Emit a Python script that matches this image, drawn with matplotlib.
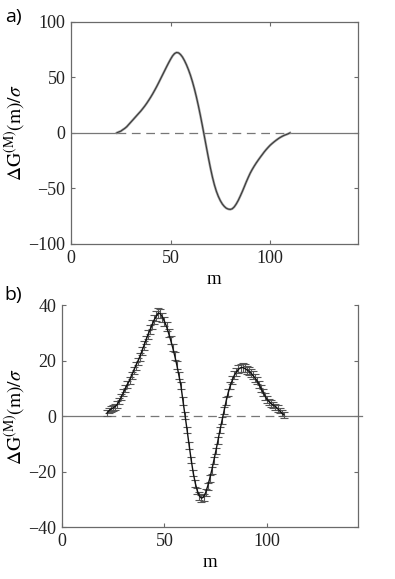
import numpy as np
import matplotlib
matplotlib.use("Agg")
import matplotlib.pyplot as plt

plt.rcParams['font.family'] = ['Liberation Serif', 'DejaVu Serif']
plt.rcParams['mathtext.fontset'] = 'stix'

# panel a) : smooth free-energy difference curve
m_a = np.arange(23, 111)
dg_a = [0.0, 0.8, 1.5, 2.8, 4.0, 5.5, 7.5, 9.5, 11.5, 13.5,
        15.5, 17.5, 19.5, 21.7, 24.0, 26.5, 29.2, 32.0, 35.0, 38.2,
        41.5, 45.0, 48.6, 52.2, 55.8, 59.4, 62.9, 66.2, 69.2, 71.3,
        72.3, 72.0, 70.5, 68.2, 65.0, 61.2, 56.8, 51.8, 46.0, 39.5,
        32.2, 24.2, 15.5, 6.3, -3.2, -12.8, -22.3, -31.3, -39.5, -46.6,
        -52.5, -57.2, -61.0, -64.0, -66.2, -67.8, -68.6, -68.9, -68.3, -66.6,
        -64.0, -60.8, -57.0, -53.0, -48.7, -44.3, -40.2, -36.3, -33.0, -30.0,
        -27.2, -24.6, -22.1, -19.7, -17.3, -15.1, -13.1, -11.2, -9.6, -8.1,
        -6.7, -5.4, -4.2, -3.2, -2.3, -1.6, -0.9, 0.0]

# panel b) : curve with error bars
m_b = np.arange(22, 109)
dg_b = [1.1, 2.0, 2.6, 3.0, 3.5, 4.2, 5.5, 7.0, 8.5, 10.0,
        11.5, 13.0, 14.8, 16.5, 18.2, 19.8, 21.5, 23.5, 25.5, 27.5,
        29.5, 31.2, 33.0, 34.8, 36.2, 37.3, 37.0, 35.8, 34.2, 32.4,
        30.0, 27.5, 24.8, 21.8, 18.5, 14.8, 11.0, 5.5, 0.3, -5.0,
        -10.5, -15.8, -20.5, -24.2, -27.0, -28.8, -29.6, -29.2, -27.6, -25.3,
        -22.5, -19.5, -16.0, -12.5, -8.8, -5.0, -1.5, 2.0, 5.5, 8.5,
        11.0, 13.0, 14.8, 16.0, 17.0, 17.5, 17.6, 17.3, 16.8, 16.3,
        15.6, 14.8, 13.8, 12.8, 11.5, 10.0, 8.6, 7.2, 6.0, 5.2,
        4.5, 4.0, 3.5, 2.8, 2.0, 1.2, 0.5]
err_b = [1.0, 1.0, 1.1, 1.1, 1.1, 1.2, 1.2, 1.2, 1.2, 1.3,
         1.3, 1.3, 1.3, 1.4, 1.4, 1.4, 1.4, 1.5, 1.5, 1.5,
         1.5, 1.6, 1.6, 1.6, 1.7, 1.8, 1.7, 1.6, 1.6, 1.5,
         1.5, 1.5, 1.4, 1.4, 1.4, 1.3, 1.3, 1.3, 1.2, 1.2,
         1.2, 1.2, 1.2, 1.2, 1.2, 1.3, 1.3, 1.3, 1.3, 1.2,
         1.2, 1.2, 1.2, 1.2, 1.2, 1.2, 1.2, 1.2, 1.3, 1.3,
         1.3, 1.4, 1.4, 1.5, 1.5, 1.5, 1.5, 1.5, 1.5, 1.4,
         1.4, 1.4, 1.4, 1.3, 1.3, 1.3, 1.3, 1.2, 1.2, 1.2,
         1.2, 1.1, 1.1, 1.1, 1.0, 1.0, 1.0]

XMAX = 144
ylabel = r'$\Delta\mathrm{G}^{(\mathrm{M})}(\mathrm{m})/\sigma$'
spine_col = '#6a6a6a'


def style_axes(ax, top=True):
    for s in ax.spines.values():
        s.set_color(spine_col)
        s.set_linewidth(0.9)
    ax.spines['top'].set_visible(top)
    ax.tick_params(direction='in', length=3, width=0.8, color=spine_col,
                   labelsize=13, pad=4, top=top, right=True, labelcolor='#222222')
    ax.set_xlabel('m', fontsize=13.5, labelpad=3)
    ax.set_ylabel(ylabel, fontsize=14, labelpad=1)


def zero_line(ax, m, extend=0):
    ax.plot([0, m[0]], [0, 0], color='#777777', lw=0.9)
    ax.plot([m[0], m[-1]], [0, 0], color='#777777', lw=0.9, ls=(0, (7, 4.5)))
    ax.plot([m[-1], XMAX + extend], [0, 0], color='#777777', lw=0.9, clip_on=False)


fig = plt.figure(figsize=(3.95, 5.79), dpi=100)
ax1 = fig.add_axes([0.1797, 0.5786, 0.7259, 0.3839])
ax2 = fig.add_axes([0.1562, 0.0898, 0.7494, 0.3826])

# a)
zero_line(ax1, m_a)
ax1.plot(m_a, dg_a, color='#999999', lw=1.7)
ax1.plot(m_a, dg_a, color='#333333', lw=0.7)
ax1.set_xlim(0, XMAX)
ax1.set_ylim(-100, 100)
ax1.set_xticks([0, 50, 100])
ax1.set_yticks([-100, -50, 0, 50, 100])
style_axes(ax1)

# b)
zero_line(ax2, m_b, extend=2)
ax2.errorbar(m_b, dg_b, yerr=err_b, color='#111111', lw=1.0,
             ecolor='#555555', elinewidth=0.8, capsize=2.8, capthick=0.8)
ax2.set_xlim(0, XMAX)
ax2.set_ylim(-40, 40)
ax2.set_xticks([0, 50, 100])
ax2.set_yticks([-40, -20, 0, 20, 40])
style_axes(ax2, top=False)

fig.text(0.012, 0.97, 'a)', fontsize=14, family='Open Sans', va='center')
fig.text(0.012, 0.49, 'b)', fontsize=14, family='Open Sans', va='center')

fig.savefig('out.png', dpi=100)
